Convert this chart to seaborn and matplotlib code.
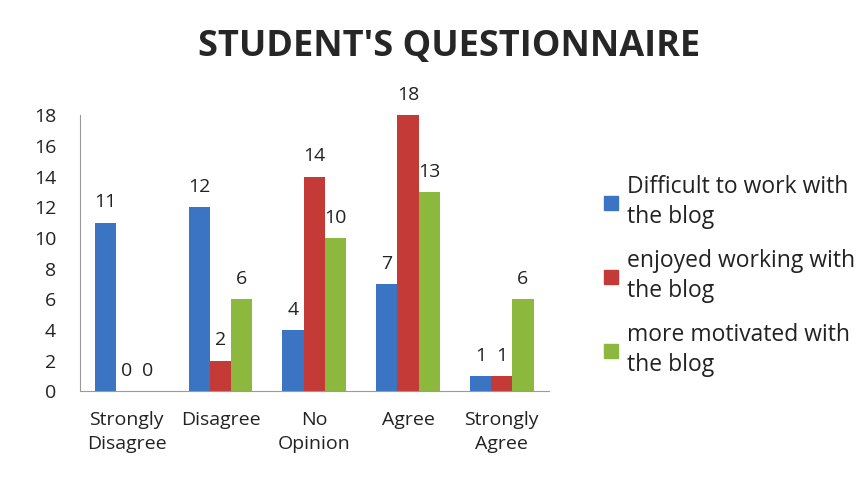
import numpy as np
import pandas as pd
import matplotlib
matplotlib.use("Agg")
import matplotlib.pyplot as plt
import seaborn as sns
from matplotlib.lines import Line2D

categorias = ["Strongly\nDisagree", "Disagree", "No\nOpinion", "Agree", "Strongly\nAgree"]
series = ["Difficult to work with\nthe blog", "enjoyed working with\nthe blog", "more motivated with\nthe blog"]
dificil = [11, 12, 4, 7, 1]
gostou = [0, 2, 14, 18, 1]
motivado = [0, 6, 10, 13, 6]
cores = ["#3a74c2", "#c43a37", "#8cb83e"]

df = pd.DataFrame({
    "categoria": categorias * 3,
    "serie": [series[0]] * 5 + [series[1]] * 5 + [series[2]] * 5,
    "valor": dificil + gostou + motivado,
})

sns.set_style("white")
plt.rcParams['font.family'] = ['Open Sans', 'DejaVu Sans']

fig = plt.figure(figsize=(8.68, 4.8), dpi=100)
ax = fig.add_axes([0.092, 0.185, 0.54, 0.575])

sns.barplot(data=df, x="categoria", y="valor", hue="serie", palette=cores,
            saturation=1, width=0.68, ax=ax, legend=False, edgecolor="none")

# rotulos de dados
for cont in ax.containers:
    labels = [f"{int(v)}" for v in cont.datavalues]
    ax.bar_label(cont, labels=labels, padding=8, fontsize=14, color="#222222")

ax.set_ylim(0, 18)
ax.set_yticks(range(0, 19, 2))
ax.set_xlim(-0.5, 4.5)
ax.set_xlabel("")
ax.set_ylabel("")
ax.tick_params(axis='y', labelsize=14, length=0, pad=17, labelcolor="#222222")
ax.tick_params(axis='x', labelsize=14, length=0, pad=14, labelcolor="#222222")
for lbl in ax.get_xticklabels():
    lbl.set_linespacing(1.45)
for s in ["top", "right"]:
    ax.spines[s].set_visible(False)
ax.spines["left"].set_color("#9a9a9a")
ax.spines["bottom"].set_color("#9a9a9a")

fig.suptitle("STUDENT'S QUESTIONNAIRE", x=0.517, y=0.94, fontsize=26, fontweight='bold')

handles = [Line2D([0], [0], marker='s', linestyle='none', markersize=10,
                  markerfacecolor=c, markeredgecolor=c) for c in cores]
leg = fig.legend(handles, series, loc="center left", bbox_to_anchor=(0.67, 0.425),
                 frameon=False, fontsize=16.5, handletextpad=0.3, labelspacing=0.85,
                 handlelength=0.8, labelcolor="#222222")
for t in leg.get_texts():
    t.set_linespacing(1.35)

plt.savefig("out.png", dpi=100)
